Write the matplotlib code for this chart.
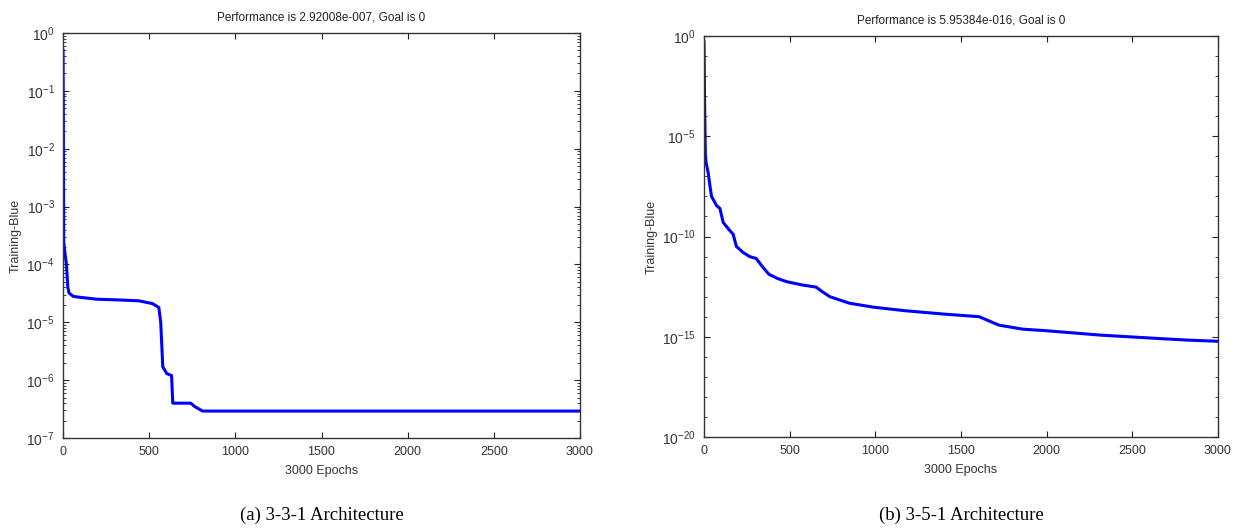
import matplotlib.pyplot as plt
from matplotlib.ticker import LogLocator, NullFormatter

plt.rcParams["font.family"] = ["Liberation Sans", "DejaVu Sans"]
plt.rcParams["mathtext.default"] = "regular"

# 3-3-1 network, training performance per epoch
epochs_a = [0, 2, 4, 12, 20, 28, 35, 60, 100, 200, 300, 440, 520, 556, 567,
            579, 602, 630, 637, 741, 764, 810, 3000]
perf_a = [0.5, 0.04, 2.5e-4, 1.5e-4, 1e-4, 4e-5, 3.2e-5, 2.8e-5, 2.7e-5,
          2.5e-5, 2.45e-5, 2.35e-5, 2.1e-5, 1.8e-5, 1e-5, 1.7e-6, 1.3e-6,
          1.2e-6, 4e-7, 4e-7, 3.5e-7, 2.92e-7, 2.92e-7]

# 3-5-1 network
epochs_b = [0, 3, 8, 12, 25, 35, 44, 73, 93, 112, 150, 170, 189, 228, 266,
            305, 340, 379, 430, 482, 574, 654, 689, 734, 849, 987, 1170,
            1400, 1606, 1721, 1859, 1997, 2318, 2640, 2823, 3000]
perf_b = [0.5, 1e-3, 1e-6, 5e-7, 1.4e-7, 3.2e-8, 1e-8, 3.5e-9, 2.5e-9,
          5e-10, 2e-10, 1.3e-10, 3.2e-11, 1.6e-11, 1e-11, 8e-12, 3.2e-12,
          1.3e-12, 8e-13, 5.6e-13, 3.8e-13, 3e-13, 1.8e-13, 1e-13, 4.7e-14,
          3e-14, 2e-14, 1.35e-14, 1e-14, 3.8e-15, 2.4e-15, 2e-15, 1.2e-15,
          8.3e-16, 6.8e-16, 5.95e-16]

titles = ["Performance is 2.92008e-007, Goal is 0",
          "Performance is 5.95384e-016, Goal is 0"]
captions = ["(a) 3-3-1 Architecture", "(b) 3-5-1 Architecture"]

fig = plt.figure(figsize=(12.45, 5.28), dpi=100)
W, H = 1245, 528
# axes boxes in pixels: left, right, top, bottom
boxes = [(63, 580, 33, 438), (704, 1218, 36, 437)]
axes = [fig.add_axes([l / W, 1 - b / H, (r - l) / W, (b - t) / H])
        for l, r, t, b in boxes]

ax1, ax2 = axes
ax1.semilogy(epochs_a, perf_a, color="#0000ff", lw=2.2)
ax1.set_ylim(1e-7, 1)
ax1.set_yticks([10.0 ** -k for k in range(8)])
ax1.set_yticklabels(["$10^{%d}$" % -k if k else "$10^{0}$" for k in range(8)])
ax1.yaxis.set_minor_locator(LogLocator(base=10, subs=range(2, 10), numticks=50))
ax1.yaxis.set_minor_formatter(NullFormatter())

ax2.semilogy(epochs_b, perf_b, color="#0000ff", lw=2.2)
ax2.set_ylim(1e-20, 1)
ax2.set_yticks([10.0 ** -k for k in range(0, 21, 5)])
ax2.set_yticklabels(["$10^{0}$"] + ["$10^{-%d}$" % k for k in range(5, 21, 5)])
ax2.yaxis.set_minor_locator(LogLocator(base=10, subs=[1.0], numticks=50))
ax2.yaxis.set_minor_formatter(NullFormatter())

for ax, t, c in zip(axes, titles, captions):
    ax.set_xlim(0, 3000)
    ax.set_xticks(range(0, 3001, 500))
    ax.tick_params(which="both", direction="in", top=True, right=True,
                   colors="#222222", labelcolor="#333333")
    ax.tick_params(axis="x", labelsize=9)
    ax.tick_params(axis="y", labelsize=10)
    ax.tick_params(which="major", length=4, pad=6)
    ax.tick_params(which="minor", length=2)
    ax.set_title(t, fontsize=8.5, color="#222222", pad=9)
    ax.set_xlabel("3000 Epochs", fontsize=9, color="#333333", labelpad=5)
    ax.set_ylabel("Training-Blue", fontsize=9, color="#333333", labelpad=3)
    for s in ax.spines.values():
        s.set_color("#333333")
        s.set_linewidth(1.0)
    bb = ax.get_position()
    fig.text((bb.x0 + bb.x1) / 2, 1 - 515 / H, c, ha="center", va="center",
             fontsize=13.5, family=["Liberation Serif", "DejaVu Serif"])

fig.savefig("out.png", dpi=100)
